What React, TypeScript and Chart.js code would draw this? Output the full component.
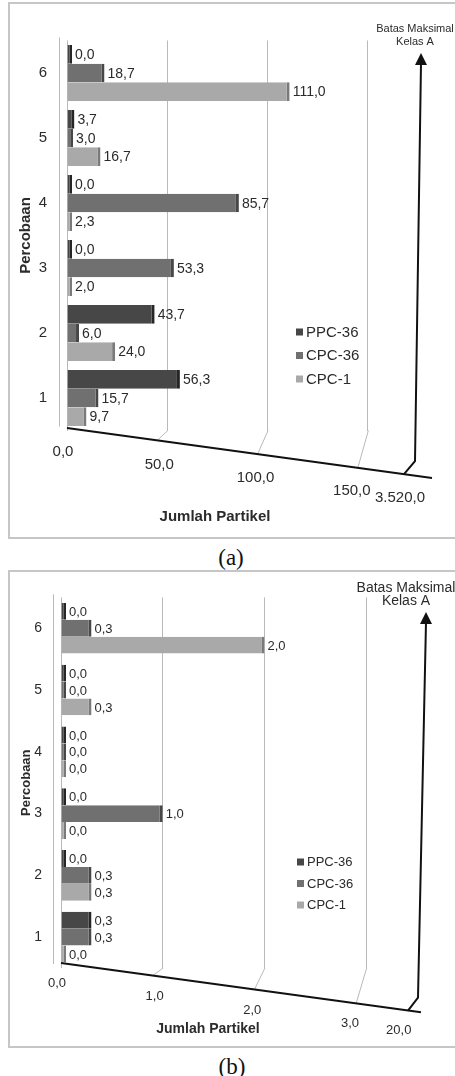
import React, { useEffect, useRef } from "react";
import { Chart, registerables } from "chart.js";

Chart.register(...registerables);
Chart.defaults.font.family = "'Liberation Sans', Arial, sans-serif";

// ---------- data ----------
const categories = ["6", "5", "4", "3", "2", "1"];
const seriesNames = ["PPC-36", "CPC-36", "CPC-1"];

// chart (a)
const ppc36A = [0.0, 3.7, 0.0, 0.0, 43.7, 56.3];
const cpc36A = [18.7, 3.0, 85.7, 53.3, 6.0, 15.7];
const cpc1A = [111.0, 16.7, 2.3, 2.0, 24.0, 9.7];
const ticksA = [0, 50, 100, 150];
const tickLabelsA = ["0,0", "50,0", "100,0", "150,0"];
const limitValueA = 175;
const limitLabelA = "3.520,0";

// chart (b)
const ppc36B = [0.0, 0.0, 0.0, 0.0, 0.0, 0.3];
const cpc36B = [0.3, 0.0, 0.0, 1.0, 0.3, 0.3];
const cpc1B = [2.0, 0.3, 0.0, 0.0, 0.3, 0.0];
const ticksB = [0, 1, 2, 3];
const tickLabelsB = ["0,0", "1,0", "2,0", "3,0"];
const limitValueB = 3.5;
const limitLabelB = "20,0";

const noteLines = ["Batas Maksimal", "Kelas A"];
const xTitleText = "Jumlah Partikel";
const yTitleText = "Percobaan";

// ---------- styles ----------
const FILL = ["#474747", "#707070", "#a9a9a9"];
const CAP = ["#262626", "#474747", "#7a7a7a"];
const TEXT = "#2b2b2b";
const GRID = "#b9b9b9";

type Cfg = {
  series: number[][];
  ticks: number[];
  tickLabels: string[];
  limit: number;
  limitLabel: string;
  height: number;
  padTop: number;
  padRight: number;
  padBottom: number;
  yAxisWidth: number;
  yTickPad: number;
  yTickFont: number;
  titleFont: number;
  titlePadTop: number;
  catPct: number;
  valueFont: number;
  axisFont: number;
  axisLabelDy: number;
  floorLift: number;
  floorExt: number;
  kinkDx: number;
  vBotDx: number;
  arrowTopDx: number;
  arrowTopY: number;
  noteX: number;
  noteY: number;
  noteGap: number;
  noteFont: number;
  legendX: number;
  legendY: number;
  legendGap: number;
  legendFont: number;
  xTitleX: number;
  xTitleY: number;
  xTitleFont: number;
};

const cfgA: Cfg = {
  series: [ppc36A, cpc36A, cpc1A],
  ticks: ticksA,
  tickLabels: tickLabelsA,
  limit: limitValueA,
  limitLabel: limitLabelA,
  height: 540,
  padTop: 40.5,
  padRight: 37,
  padBottom: 109.5,
  yAxisWidth: 67,
  yTickPad: 20,
  yTickFont: 15,
  titleFont: 15,
  titlePadTop: 17,
  catPct: 0.86,
  valueFont: 14,
  axisFont: 15,
  axisLabelDy: 24,
  floorLift: 2.5,
  floorExt: 14,
  kinkDx: 14,
  vBotDx: -3,
  arrowTopDx: 3,
  arrowTopY: 53,
  noteX: 415,
  noteY: 29,
  noteGap: 12.5,
  noteFont: 11,
  legendX: 296,
  legendY: 332,
  legendGap: 23.5,
  legendFont: 15,
  xTitleX: 215,
  xTitleY: 517,
  xTitleFont: 15,
};

const cfgB: Cfg = {
  series: [ppc36B, cpc36B, cpc1B],
  ticks: ticksB,
  tickLabels: tickLabelsB,
  limit: limitValueB,
  limitLabel: limitLabelB,
  height: 480,
  padTop: 27,
  padRight: 38,
  padBottom: 82,
  yAxisWidth: 61,
  yTickPad: 19,
  yTickFont: 14,
  titleFont: 13,
  titlePadTop: 19,
  catPct: 0.82,
  valueFont: 13,
  axisFont: 13,
  axisLabelDy: 21,
  floorLift: 5,
  floorExt: 4,
  kinkDx: 9,
  vBotDx: 1,
  arrowTopDx: 9,
  arrowTopY: 42,
  noteX: 406,
  noteY: 18,
  noteGap: 13,
  noteFont: 14,
  legendX: 297,
  legendY: 292,
  legendGap: 21.5,
  legendFont: 13,
  xTitleX: 208,
  xTitleY: 459,
  xTitleFont: 14,
};

const SLOPE = 0.137;
const fmt = (v: number) => v.toFixed(1).replace(".", ",");

function makeDecor(c: Cfg) {
  return {
    id: "decor",
    afterDatasetsDraw(chart: any) {
      const ctx = chart.ctx as CanvasRenderingContext2D;
      const xs = chart.scales.x;
      const area = chart.chartArea;
      const x0 = xs.getPixelForValue(0);
      const startY = area.bottom - c.floorLift;
      const floorY = (px: number) => startY + (px - x0) * SLOPE;
      const limitPx = xs.getPixelForValue(c.limit);
      ctx.save();

      // left front edge of wall
      ctx.strokeStyle = GRID;
      ctx.lineWidth = 1;
      ctx.beginPath();
      ctx.moveTo(x0 - 7.5, area.top - 3);
      ctx.lineTo(x0 - 7.5, area.bottom - 4);
      ctx.stroke();

      // diagonal connections from grid lines to the floor
      c.ticks.forEach((v) => {
        if (v === 0) return;
        const gx = xs.getPixelForValue(v);
        ctx.beginPath();
        ctx.moveTo(gx + 0.5, area.bottom);
        ctx.lineTo(gx - 10, floorY(gx - 10));
        ctx.stroke();
      });

      // floor line
      ctx.strokeStyle = "#111";
      ctx.lineWidth = 2;
      ctx.beginPath();
      ctx.moveTo(x0, floorY(x0));
      ctx.lineTo(limitPx + c.floorExt, floorY(limitPx + c.floorExt));
      ctx.stroke();

      // limit arrow
      const kx = limitPx - c.kinkDx;
      const topX = limitPx + c.arrowTopDx;
      ctx.beginPath();
      ctx.moveTo(kx, floorY(kx));
      ctx.lineTo(limitPx + c.vBotDx, floorY(kx) - 13);
      ctx.lineTo(topX, c.arrowTopY + 10);
      ctx.stroke();
      ctx.fillStyle = "#111";
      ctx.beginPath();
      ctx.moveTo(topX, c.arrowTopY);
      ctx.lineTo(topX - 6, c.arrowTopY + 12);
      ctx.lineTo(topX + 6, c.arrowTopY + 12);
      ctx.closePath();
      ctx.fill();

      // note text
      ctx.fillStyle = TEXT;
      ctx.textAlign = "center";
      ctx.textBaseline = "middle";
      ctx.font = `${c.noteFont}px 'Liberation Sans', Arial, sans-serif`;
      noteLines.forEach((t, i) => ctx.fillText(t, c.noteX, c.noteY + i * c.noteGap));

      // x tick labels along the floor
      ctx.font = `${c.axisFont}px 'Liberation Sans', Arial, sans-serif`;
      const vals = [...c.ticks, c.limit];
      const labs = [...c.tickLabels, c.limitLabel];
      vals.forEach((v, i) => {
        const bx = xs.getPixelForValue(v);
        const lx = bx - 4 - 0.04 * (bx - x0);
        ctx.fillText(labs[i], lx, floorY(lx) + c.axisLabelDy);
      });

      // x title
      ctx.font = `bold ${c.xTitleFont}px 'Liberation Sans', Arial, sans-serif`;
      ctx.fillText(xTitleText, c.xTitleX, c.xTitleY);

      // value labels
      ctx.font = `${c.valueFont}px 'Liberation Sans', Arial, sans-serif`;
      ctx.textAlign = "left";
      chart.data.datasets.forEach((ds: any, di: number) => {
        const meta = chart.getDatasetMeta(di);
        meta.data.forEach((el: any, i: number) => {
          ctx.fillText(fmt(ds.data[i]), el.x + 3, el.y + 1);
        });
      });

      // legend
      ctx.font = `${c.legendFont}px 'Liberation Sans', Arial, sans-serif`;
      seriesNames.forEach((n, i) => {
        const y = c.legendY + i * c.legendGap;
        ctx.fillStyle = FILL[i];
        ctx.fillRect(c.legendX, y - 3.5, 7, 7);
        ctx.fillStyle = TEXT;
        ctx.fillText(n, c.legendX + 10, y + 0.5);
      });

      ctx.restore();
    },
  };
}

function buildConfig(c: Cfg): any {
  const allTicks = [...c.ticks, c.limit];
  return {
    type: "bar",
    data: {
      labels: categories,
      datasets: c.series.map((d, i) => ({
        label: seriesNames[i],
        data: d,
        backgroundColor: FILL[i],
        borderColor: CAP[i],
        borderWidth: { top: 0, right: 3, bottom: 0, left: 0 },
        minBarLength: 5,
        categoryPercentage: c.catPct,
        barPercentage: 1,
      })),
    },
    options: {
      indexAxis: "y",
      animation: false,
      responsive: false,
      maintainAspectRatio: false,
      events: [],
      layout: { padding: { top: c.padTop, right: c.padRight, bottom: c.padBottom, left: 0 } },
      plugins: {
        legend: { display: false },
        tooltip: { enabled: false },
        title: { display: false },
      },
      scales: {
        x: {
          type: "linear",
          min: 0,
          max: c.limit,
          afterBuildTicks: (s: any) => {
            s.ticks = allTicks.map((v) => ({ value: v }));
          },
          ticks: { display: false },
          grid: {
            color: (ctx: any) =>
              ctx.tick && ctx.tick.value === c.limit ? "rgba(0,0,0,0)" : GRID,
            drawTicks: false,
            lineWidth: 1,
          },
          border: { display: false },
        },
        y: {
          type: "category",
          afterFit: (s: any) => {
            s.width = c.yAxisWidth;
          },
          grid: { display: false, drawTicks: false },
          border: { display: false },
          ticks: {
            color: TEXT,
            font: { size: c.yTickFont },
            padding: c.yTickPad,
            crossAlign: "center",
          },
          title: {
            display: true,
            text: yTitleText,
            color: TEXT,
            font: { size: c.titleFont, weight: "bold" },
            padding: { top: c.titlePadTop, bottom: 0 },
          },
        },
      },
    },
    plugins: [makeDecor(c)],
  };
}

function ChartCanvas({ cfg, top }: { cfg: Cfg; top: number }) {
  const ref = useRef<HTMLCanvasElement>(null);
  useEffect(() => {
    if (!ref.current) return;
    const chart = new Chart(ref.current, buildConfig(cfg));
    return () => chart.destroy();
  }, [cfg]);
  return (
    <canvas
      ref={ref}
      width={455}
      height={cfg.height}
      style={{ position: "absolute", left: 0, top, width: 455, height: cfg.height }}
    />
  );
}

const frameStyle = (top: number, height: number): React.CSSProperties => ({
  position: "absolute",
  left: 8,
  top,
  width: 470,
  height,
  boxSizing: "border-box",
  border: "2px solid #c6c6c6",
  background: "#fff",
});

const captionStyle = (top: number, cx: number): React.CSSProperties => ({
  position: "absolute",
  left: cx - 30,
  width: 60,
  top,
  textAlign: "center",
  fontFamily: "'Liberation Serif', 'Times New Roman', serif",
  fontSize: 23,
  lineHeight: "24px",
  color: "#111",
});

export default function App() {
  return (
    <div
      style={{
        position: "absolute",
        left: 0,
        top: 0,
        width: 455,
        height: 1076,
        overflow: "hidden",
        background: "#fff",
      }}
    >
      <div style={frameStyle(2, 537)} />
      <ChartCanvas cfg={cfgA} top={0} />
      <div style={captionStyle(546, 231)}>(a)</div>
      <div style={frameStyle(570, 478)} />
      <ChartCanvas cfg={cfgB} top={570} />
      <div style={captionStyle(1055, 232)}>(b)</div>
    </div>
  );
}
